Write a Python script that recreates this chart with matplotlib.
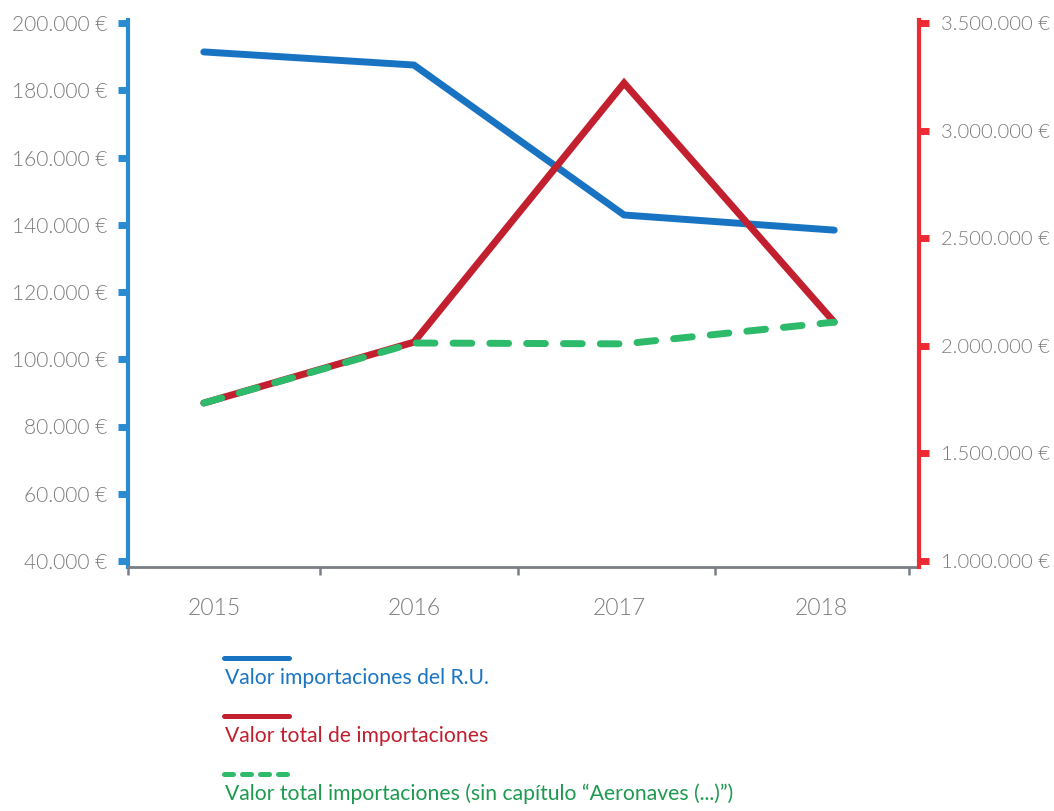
import matplotlib.pyplot as plt
from matplotlib.lines import Line2D
from matplotlib.ticker import FuncFormatter

plt.rcParams['font.family'] = ['Lato', 'DejaVu Sans']

years = ['2015', '2016', '2017', '2018']
valor_ru = [191400, 187500, 142900, 138400]
valor_total = [1734000, 2017000, 3221000, 2110000]
valor_sin_aeronaves = [1734000, 2013000, 2009000, 2110000]

left_ticks = [40000, 60000, 80000, 100000, 120000, 140000, 160000, 180000, 200000]
right_ticks = [1000000, 1500000, 2000000, 2500000, 3000000, 3500000]

legend_labels = ['Valor importaciones del R.U.',
                 'Valor total de importaciones',
                 'Valor total importaciones (sin capítulo “Aeronaves (...)”)']

c_blue = '#1874c3'
c_red = '#c21f2f'
c_green = '#2dba6a'
c_spine_l = '#2a8bd0'
c_spine_r = '#ee2a33'
c_grey = '#7b7b7b'


def euro(v, pos=None):
    return '{:,.0f} €'.format(v).replace(',', '.')


fig = plt.figure(figsize=(10.54, 8.11), dpi=100)
ax = fig.add_axes([128 / 1054, 1 - 567 / 811, (919 - 128) / 1054, (567 - 20) / 811])
ax2 = ax.twinx()

x = list(range(len(years)))
ax.plot(x, valor_ru, color=c_blue, lw=5, solid_capstyle='round', solid_joinstyle='miter')
ax2.plot(x, valor_total, color=c_red, lw=5, solid_capstyle='round', solid_joinstyle='miter')
ax2.plot(x, valor_sin_aeronaves, color=c_green, lw=5, dashes=(2.7, 2.6),
         dash_capstyle='round')

px = 210.7
ax.set_xlim(-74 / px, 3 + 85 / px)
ax.set_ylim(40000 - 6 * 160000 / 538, 200000 + 3 * 160000 / 538)
ax2.set_ylim(1000000 - 6 * 2500000 / 538, 3500000 + 3 * 2500000 / 538)

ax.set_yticks(left_ticks)
ax.yaxis.set_major_formatter(FuncFormatter(euro))
ax2.set_yticks(right_ticks)
ax2.yaxis.set_major_formatter(FuncFormatter(euro))

# category boundaries as ticks, labels centred between them
bounds = [(b - 202) / px for b in [126, 319, 517, 715, 909]]
label_pos = [(b - 202) / px for b in [213, 413, 619, 821]]
ax.set_xticks(bounds, minor=True)
ax.set_xticks(label_pos)
ax.set_xticklabels(years)
ax.tick_params(axis='x', which='major', length=0, pad=22, labelsize=16.5,
               labelcolor=c_grey)
ax.tick_params(axis='x', which='minor', length=6, width=1.8, color='#7a7f85',
               direction='out')

ax.tick_params(axis='y', length=7, width=5, color=c_spine_l, pad=8,
               labelsize=15, labelcolor=c_grey)
ax2.tick_params(axis='y', length=7.5, width=5, color=c_spine_r, pad=8,
                labelsize=14.5, labelcolor=c_grey)
for lab in ax.get_yticklabels() + ax2.get_yticklabels() + ax.get_xticklabels():
    lab.set_fontweight(300)

for a in (ax, ax2):
    a.spines['top'].set_visible(False)
ax.spines['right'].set_visible(False)
ax2.spines['left'].set_visible(False)
ax2.spines['bottom'].set_visible(False)
ax.spines['left'].set_color(c_spine_l)
ax.spines['left'].set_linewidth(3)
ax2.spines['right'].set_color(c_spine_r)
ax2.spines['right'].set_linewidth(3)
ax.spines['bottom'].set_color('#7a7f85')
ax.spines['bottom'].set_linewidth(2)

# legend: sample line above each label
leg_colors = [c_blue, c_red, c_green]
leg_text_colors = ['#1a75c2', '#c01f2e', '#1e9a50']
leg_y = [658, 716, 774]
for i, lab in enumerate(legend_labels):
    yl = 1 - leg_y[i] / 811
    kw = dict(color=leg_colors[i], lw=3.6, solid_capstyle='round')
    if i == 2:
        kw = dict(color=leg_colors[i], lw=3.6, dashes=(1.8, 1.8), dash_capstyle='round')
    fig.add_artist(Line2D([224 / 1054, 289 / 1054], [yl, yl], transform=fig.transFigure, **kw))
    fig.text(225 / 1054, 1 - (leg_y[i] + 20) / 811, lab, color=leg_text_colors[i],
             fontsize=15.2, va='center', ha='left')

fig.savefig('out.png', dpi=100)
